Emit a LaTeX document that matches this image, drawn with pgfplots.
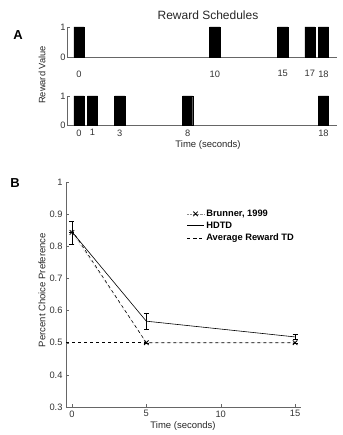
\documentclass[border=0pt]{standalone}
\usepackage{pgfplots}
\pgfplotsset{compat=1.18}
\usepackage{fontspec}
\setmainfont{Liberation Sans}
\begin{document}
\begin{tikzpicture}
\path[use as bounding box] (0,0) rectangle (342pt,435pt);
\pgfplotsset{
  base/.style={
    scale only axis, axis x line=bottom, axis y line=left,
    axis line style={-, black!60}, tick align=inside,
    major tick length=3pt, tick style={black!60},
    every tick label/.append style={font=\fontsize{9.3}{11}\selectfont, text=black!80},
    /pgf/number format/assume math mode=true,
    anchor=south west, clip=false,
  }
}
% ---------- Panel A top
\begin{axis}[base, at={(67pt,378pt)}, width=270pt, height=30pt,
  xmin=-0.88, xmax=19, ymin=0, ymax=1,
  xtick={0,10,15,17,18}, ytick={0,1},
  xticklabel style={yshift=-10pt}, yticklabel style={xshift=2pt},
  xtick style={draw=none}]
\addplot[ybar, fill=black, draw=black, bar width=0.75] coordinates {(0,1) (10,1) (15,1) (17,1) (18,1)};
\end{axis}
% ---------- Panel A bottom
\begin{axis}[base, at={(67pt,310pt)}, width=270pt, height=29pt,
  xmin=-0.88, xmax=19, ymin=0, ymax=1,
  xtick={0,1,3,8,18}, ytick={0,1},
  xticklabel style={yshift=-1pt}, yticklabel style={xshift=2pt},
  xtick style={draw=none}]
\addplot[ybar, fill=black, draw=black, bar width=0.75] coordinates {(0,1) (1,1) (3,1) (8,1) (18,1)};
\end{axis}
% ---------- Panel B
\begin{axis}[base, at={(66pt,28pt)}, width=235pt, height=225pt,
  xmin=-0.4, xmax=15.4, ymin=0.3, ymax=1,
  xtick={0,5,10,15}, ytick={0.3,0.4,0.5,0.6,0.7,0.8,0.9,1},
  yticklabel style={/pgf/number format/.cd, fixed, precision=1},
  legend style={at={(0.5,0.895)}, anchor=north west, draw=none, fill=none,
    font=\bfseries\fontsize{9.3}{11}\selectfont, row sep=0pt,
    legend cell align=left}]
\addplot[black!45, densely dotted, thin, mark=x, mark size=3.2pt,
  mark options={solid, black, thick},
  error bars/.cd, y dir=both, y explicit, error mark options={rotate=90, mark size=2.5pt, black},
  error bar style={solid, black}]
  coordinates {(0,0.843) +- (0,0.035) (5,0.5) +- (0,0) (15,0.5) +- (0,0)};
\addlegendentry{Brunner, 1999}
\addplot[black, semithick,
  error bars/.cd, y dir=both, y explicit, error mark options={rotate=90, mark size=2.5pt, black},
  error bar style={solid, black}]
  coordinates {(0,0.845) +- (0,0) (5,0.567) +- (0,0.024) (15,0.518) +- (0,0.007)};
\addlegendentry{HDTD}
\addplot[black, semithick, dashed] coordinates {(0,0.85) (5,0.5) (15,0.5)};
\addlegendentry{Average Reward TD}
\addplot[black, semithick, dashed, forget plot] coordinates {(-0.4,0.5) (5,0.5)};
\end{axis}
% ---------- Texts
\node[font=\fontsize{12}{14}\selectfont, text=black!85] at (208pt,420pt) {Reward Schedules};
\node[font=\bfseries\fontsize{13}{15}\selectfont] at (18pt,400pt) {A};
\node[font=\bfseries\fontsize{13}{15}\selectfont] at (15pt,252pt) {B};
\node[rotate=90, font=\fontsize{9.3}{11}\selectfont, text=black!85] at (42pt,360pt) {Reward Value};
\node[font=\fontsize{9.5}{11}\selectfont, text=black!85] at (208pt,290pt) {Time (seconds)};
\node[font=\fontsize{9.5}{11}\selectfont, text=black!85] at (183pt,9pt) {Time (seconds)};
\node[rotate=90, font=\fontsize{9.5}{11}\selectfont, text=black!85] at (42pt,145pt) {Percent Choice Preference};
\end{tikzpicture}
\end{document}
